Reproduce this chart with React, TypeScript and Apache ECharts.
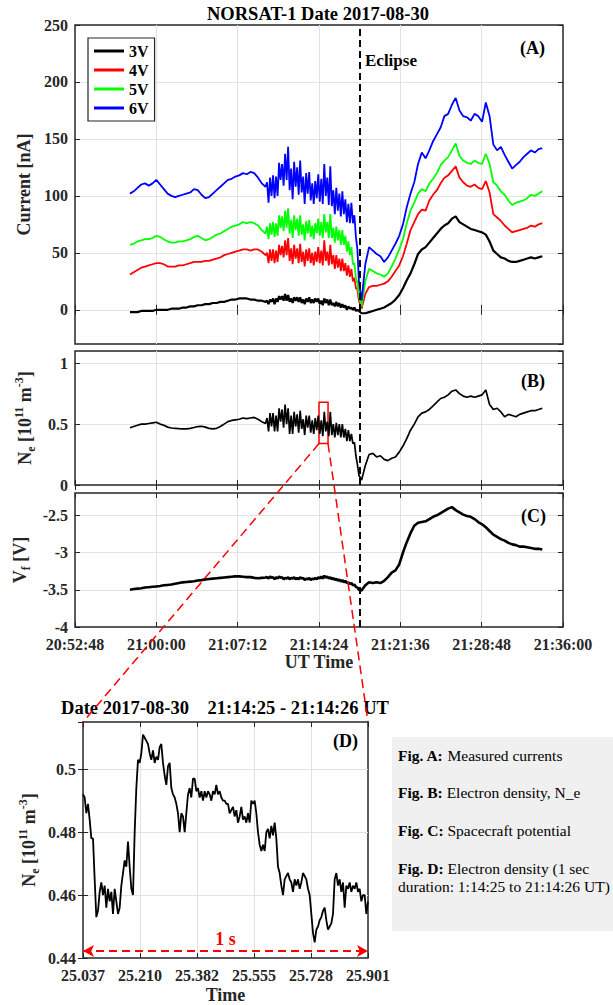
import React, { useEffect, useRef } from "react";
import * as echarts from "echarts";

const FONT = '"Liberation Serif", "Times New Roman", Times, serif';

// sampling of the time series, seconds of day: [start, step, count]
const timeSegments: number[][] = [
  [75460, 20, 37],
  [76188, 8, 62],
  [76690, 20, 49],
];
const tA: number[] = [];
timeSegments.forEach(([s, st, n]) => {
  for (let i = 0; i < n; i++) tA.push(s + i * st);
});

const xTickStart = 75168; // 20:52:48
const xTickEnd = 77760; // 21:36:00
const xTickStep = 432; // 7:12
const eclipseTime = 76680;
const zoomWindow = [76464, 76512];
const zoomRange = [0.34, 0.68];

const seriesNames = ["3V", "4V", "5V", "6V"];
const seriesColors = ["#000000", "#ff0000", "#00ff00", "#0000ff"];

const current3V = [
  -2, -2, -2, -1, -1, -1, -1, 0, 0, 0,
  0, 1, 1, 1, 2, 2, 3, 3, 4, 4,
  5, 5, 6, 6, 7, 7, 8, 9, 9, 10,
  10, 10, 9, 9, 8, 8, 7,
  8, 5, 9, 7, 10, 5, 10, 7, 12, 9,
  12, 8, 14, 8, 13, 7, 10, 6, 11, 8,
  11, 7, 11, 6, 9, 5, 10, 7, 11, 6,
  9, 6, 10, 7, 10, 5, 8, 4, 10, 6,
  9, 4, 9, 4, 6, 3, 7, 3, 6, 2,
  5, 2, 4, 0, 3, 1, 2, 0, 2, -1,
  0, -1,
  -3, -3, -2, -1, 0, 1, 2, 4, 6, 9,
  13, 19, 26, 32, 40, 49, 53, 55, 59, 63,
  67, 71, 74, 76, 80, 82, 77, 75, 73, 71,
  70, 69, 68, 66, 60, 52, 49, 46, 45, 43,
  42, 42, 43, 44, 45, 46, 45, 46, 47,
];
const current4V = [
  31, 33, 35, 37, 38, 39, 40, 41, 41, 40,
  38, 38, 38, 39, 39, 40, 41, 42, 42, 42,
  43, 43, 44, 45, 46, 48, 49, 50, 51, 52,
  53, 53, 52, 53, 53, 51, 48,
  50, 41, 53, 43, 53, 41, 52, 42, 57, 48,
  56, 46, 61, 48, 63, 43, 54, 40, 57, 45,
  54, 41, 58, 42, 51, 38, 53, 43, 54, 41,
  50, 39, 51, 42, 55, 41, 52, 39, 61, 43,
  51, 39, 57, 40, 48, 36, 48, 37, 45, 34,
  45, 34, 41, 30, 39, 29, 36, 25, 28, 19,
  18, 8,
  1, 14, 20, 21, 21, 22, 23, 25, 29, 34,
  39, 47, 58, 70, 77, 84, 88, 87, 96, 101,
  105, 111, 116, 118, 122, 126, 116, 112, 109, 108,
  110, 107, 106, 113, 103, 84, 81, 78, 74, 71,
  68, 69, 70, 71, 72, 74, 73, 75, 76,
];
const current5V = [
  57, 58, 60, 61, 62, 62, 63, 65, 64, 62,
  60, 59, 59, 60, 60, 61, 62, 64, 65, 63,
  61, 62, 64, 66, 67, 69, 71, 73, 74, 75,
  77, 76, 77, 76, 74, 70, 67,
  73, 62, 76, 66, 77, 64, 76, 65, 83, 72,
  82, 69, 87, 72, 89, 67, 79, 63, 83, 70,
  80, 65, 83, 66, 75, 61, 78, 67, 79, 64,
  74, 62, 76, 67, 80, 65, 77, 63, 84, 68,
  77, 63, 84, 63, 72, 59, 73, 61, 70, 57,
  70, 57, 65, 51, 60, 48, 55, 40, 41, 28,
  24, 12,
  3, 25, 36, 34, 32, 31, 29, 32, 38, 45,
  53, 62, 76, 87, 94, 102, 106, 104, 111, 115,
  120, 127, 131, 134, 140, 146, 135, 131, 129, 128,
  131, 129, 128, 137, 128, 112, 109, 104, 101, 96,
  92, 94, 95, 96, 98, 101, 100, 102, 104,
];
const current6V = [
  102, 104, 107, 110, 111, 109, 111, 114, 110, 106,
  102, 100, 99, 100, 101, 102, 103, 106, 105, 101,
  98, 99, 102, 105, 108, 111, 114, 115, 117, 118,
  120, 119, 121, 120, 116, 111, 108,
  112, 94, 116, 100, 118, 98, 117, 100, 129, 114,
  128, 109, 137, 114, 143, 105, 124, 97, 130, 108,
  125, 101, 131, 103, 117, 93, 120, 102, 121, 96,
  111, 93, 113, 98, 119, 95, 115, 93, 128, 100,
  116, 92, 126, 91, 105, 84, 107, 87, 102, 82,
  104, 84, 97, 77, 93, 76, 94, 76, 83, 64,
  53, 25,
  8, 40, 55, 52, 49, 47, 42, 46, 52, 58,
  65, 75, 90, 102, 112, 128, 138, 133, 140, 148,
  154, 160, 170, 172, 180, 186, 175, 170, 169, 166,
  172, 170, 165, 182, 170, 145, 140, 143, 136, 130,
  124, 127, 130, 134, 137, 140, 138, 141, 142,
];
const currents = [current3V, current4V, current5V, current6V];

const electronDensity = [
  0.47, 0.48, 0.49, 0.5, 0.5, 0.505, 0.51, 0.515, 0.5, 0.49,
  0.475, 0.468, 0.465, 0.462, 0.46, 0.46, 0.465, 0.472, 0.48, 0.482,
  0.475, 0.465, 0.46, 0.465, 0.48, 0.5, 0.52, 0.53, 0.535, 0.54,
  0.55, 0.545, 0.55, 0.555, 0.54, 0.52, 0.505,
  0.55, 0.44, 0.59, 0.48, 0.59, 0.44, 0.57, 0.44, 0.63, 0.52,
  0.62, 0.47, 0.66, 0.5, 0.63, 0.42, 0.57, 0.42, 0.6, 0.48,
  0.58, 0.43, 0.61, 0.46, 0.54, 0.41, 0.57, 0.47, 0.57, 0.43,
  0.53, 0.42, 0.55, 0.45, 0.57, 0.42, 0.53, 0.4, 0.6, 0.44,
  0.52, 0.4, 0.6, 0.41, 0.5, 0.39, 0.51, 0.41, 0.5, 0.39,
  0.5, 0.39, 0.46, 0.36, 0.45, 0.36, 0.42, 0.34, 0.35, 0.24,
  0.17, 0.08,
  0.04, 0.16, 0.25, 0.26, 0.23, 0.24, 0.21, 0.2, 0.22, 0.23,
  0.27, 0.32, 0.38, 0.45, 0.5, 0.56, 0.59, 0.6, 0.62, 0.65,
  0.68, 0.71, 0.72, 0.74, 0.77, 0.78, 0.75, 0.73, 0.72, 0.73,
  0.72, 0.73, 0.74, 0.78, 0.66, 0.62, 0.63, 0.6, 0.56, 0.58,
  0.57, 0.56, 0.58, 0.59, 0.6, 0.61, 0.61, 0.62, 0.63,
];

const floatingPotential = [
  -3.5, -3.49, -3.485, -3.48, -3.47, -3.465, -3.46, -3.455, -3.45, -3.44,
  -3.435, -3.43, -3.42, -3.41, -3.4, -3.395, -3.39, -3.385, -3.375, -3.37,
  -3.36, -3.355, -3.35, -3.345, -3.34, -3.335, -3.33, -3.325, -3.32, -3.32,
  -3.325, -3.33, -3.33, -3.34, -3.345, -3.34, -3.335,
  -3.33, -3.35, -3.32, -3.34, -3.33, -3.36, -3.33, -3.35, -3.32, -3.34,
  -3.33, -3.36, -3.34, -3.35, -3.33, -3.36, -3.34, -3.35, -3.33, -3.36,
  -3.34, -3.36, -3.33, -3.35, -3.34, -3.37, -3.35, -3.36, -3.34, -3.37,
  -3.35, -3.36, -3.34, -3.36, -3.33, -3.35, -3.32, -3.35, -3.31, -3.34,
  -3.32, -3.35, -3.33, -3.36, -3.34, -3.37, -3.35, -3.38, -3.36, -3.39,
  -3.37, -3.4, -3.38, -3.41, -3.4, -3.42, -3.41, -3.44, -3.43, -3.46,
  -3.47, -3.5,
  -3.51, -3.44, -3.4, -3.41, -3.4, -3.41, -3.38, -3.33, -3.27, -3.24,
  -3.16, -3.0, -2.86, -2.74, -2.64, -2.6, -2.59, -2.58, -2.55, -2.52,
  -2.5, -2.47, -2.44, -2.41, -2.39, -2.43, -2.46, -2.49, -2.51, -2.52,
  -2.55, -2.59, -2.62, -2.66, -2.71, -2.76, -2.79, -2.82, -2.84, -2.87,
  -2.89, -2.9, -2.92, -2.92, -2.93, -2.94, -2.95, -2.95, -2.96,
];

// Panel D: 1 s of electron density, evenly sampled
const dTicks = ["25.037", "25.210", "25.382", "25.555", "25.728", "25.901"];
const dDensity = [
  0.492, 0.491, 0.486, 0.489, 0.484, 0.478, 0.478, 0.465, 0.453, 0.455,
  0.461, 0.464, 0.46, 0.463, 0.456, 0.462, 0.458, 0.461, 0.454, 0.462,
  0.458, 0.454, 0.456, 0.463, 0.467, 0.471, 0.469, 0.477, 0.469, 0.462,
  0.46, 0.48, 0.494, 0.503, 0.502, 0.505, 0.511, 0.51, 0.509, 0.508,
  0.505, 0.503, 0.506, 0.502, 0.504, 0.503, 0.507, 0.508, 0.502, 0.498,
  0.495, 0.501, 0.502, 0.494, 0.492, 0.491, 0.489, 0.486, 0.48, 0.486,
  0.485, 0.48, 0.486, 0.492, 0.494, 0.491, 0.497, 0.497, 0.493, 0.494,
  0.491, 0.493, 0.49, 0.493, 0.491, 0.493, 0.492, 0.49, 0.493, 0.492,
  0.495, 0.492, 0.493, 0.491, 0.49, 0.49, 0.489, 0.489, 0.486, 0.487,
  0.488, 0.485, 0.487, 0.483, 0.485, 0.488, 0.484, 0.485, 0.483, 0.486,
  0.483, 0.49, 0.489, 0.49, 0.486, 0.48, 0.476, 0.474, 0.476, 0.474,
  0.48, 0.481, 0.478, 0.482, 0.479, 0.483, 0.478, 0.469, 0.467, 0.463,
  0.46, 0.465, 0.466, 0.467, 0.465, 0.464, 0.461, 0.465, 0.463, 0.465,
  0.462, 0.464, 0.467, 0.466, 0.465, 0.462, 0.46, 0.454, 0.448, 0.445,
  0.449, 0.45, 0.452, 0.453, 0.455, 0.456, 0.452, 0.449, 0.45, 0.451,
  0.454, 0.465, 0.467, 0.463, 0.465, 0.461, 0.464, 0.456, 0.463, 0.462,
  0.464, 0.461, 0.463, 0.462, 0.464, 0.461, 0.462, 0.458, 0.46, 0.46,
  0.454, 0.458,
];
const dYMin = 0.44;
const dYMax = 0.515;
const oneSecondLevel = 0.4422;

const fmtTime = (v: number) => {
  const h = Math.floor(v / 3600);
  const m = Math.floor((v % 3600) / 60);
  const s = Math.round(v % 60);
  const p = (n: number) => String(n).padStart(2, "0");
  return `${p(h)}:${p(m)}:${p(s)}`;
};

const INK = "#262626";
const tickText = { fontFamily: FONT, fontWeight: "bold" as const, fontSize: 16, color: INK };
const subSup = {
  n: { fontFamily: FONT, fontWeight: "bold", fontSize: 18, color: INK, lineHeight: 24, verticalAlign: "middle" },
  s: { fontFamily: FONT, fontWeight: "bold", fontSize: 12, color: INK, verticalAlign: "bottom" },
  p: { fontFamily: FONT, fontWeight: "bold", fontSize: 12, color: INK, verticalAlign: "top" },
};
const nameText = { fontFamily: FONT, fontWeight: "bold" as const, fontSize: 18, color: INK, rich: subSup };
const gridLine = { show: true, showMinLine: false, showMaxLine: false, lineStyle: { color: "#e2e2e2", width: 1 } };
const tick = { show: true, inside: true, length: 5, lineStyle: { color: INK, width: 1 } };

const grids = [
  { left: 75, top: 25, width: 488, height: 319 },
  { left: 75, top: 351, width: 488, height: 134 },
  { left: 75, top: 493, width: 488, height: 134 },
  { left: 83, top: 722, width: 285, height: 236 },
].map((g) => ({ ...g, show: true, borderColor: INK, borderWidth: 1.5, backgroundColor: "transparent" }));

const yRanges: any[] = [
  { min: -30, max: 250, splitNumber: 5 },
  { min: 0, max: 1.1, interval: 0.5 },
  { min: -4, max: -2.2, interval: 0.5 },
  { min: dYMin, max: dYMax, interval: 0.02 },
];
const xRanges: any[] = [
  { min: xTickStart, max: xTickEnd, interval: xTickStep },
  { min: xTickStart, max: xTickEnd, interval: xTickStep },
  { min: xTickStart, max: xTickEnd, interval: xTickStep },
  { min: 0, max: 5, interval: 1 },
];
const yNames = [
  "Current [nA]",
  "{n|N}{s|e}{n| [10}{p|11}{n| m}{p|-3}{n|]}",
  "{n|V}{s|f}{n| [V]}",
  "{n|N}{s|e}{n| [10}{p|11}{n| m}{p|-3}{n|]}",
];
const yNameGaps = [36, 34, 34, 42];

function buildOption() {
  const xAxis: any[] = [];
  const yAxis: any[] = [];
  for (let i = 0; i < 4; i++) {
    const showX = i >= 2;
    xAxis.push({
      type: "value",
      gridIndex: i,
      ...xRanges[i],
      axisLine: { show: false },
      axisTick: tick,
      splitLine: gridLine,
      axisLabel: {
        show: showX,
        ...tickText,
        margin: 9,
        formatter: i === 3 ? (v: number) => dTicks[Math.round(v)] ?? "" : fmtTime,
      },
      name: i === 2 ? "UT Time" : i === 3 ? "Time" : "",
      nameLocation: "middle",
      nameGap: i === 2 ? 26 : 28,
      nameTextStyle: nameText,
    });
    yAxis.push({
      type: "value",
      gridIndex: i,
      ...yRanges[i],
      axisLine: { show: false },
      axisTick: tick,
      splitLine: gridLine,
      axisLabel: {
        ...tickText,
        margin: 7,
        showMinLabel: i === 0 ? false : true,
        showMaxLabel: i === 0 ? true : false,
        formatter: (v: number) => String(Number(v.toFixed(3))),
      },
      name: yNames[i],
      nameLocation: "middle",
      nameRotate: 90,
      nameGap: yNameGaps[i],
      nameTextStyle: nameText,
    });
  }
  // secondary axes for inward ticks on top and right
  for (let i = 0; i < 4; i++) {
    xAxis.push({
      type: "value", gridIndex: i, position: "top", ...xRanges[i],
      axisLine: { show: false }, axisTick: tick, axisLabel: { show: false }, splitLine: { show: false },
    });
    yAxis.push({
      type: "value", gridIndex: i, position: "right", ...yRanges[i],
      axisLine: { show: false }, axisTick: tick, axisLabel: { show: false }, splitLine: { show: false },
    });
  }

  const eclipseLine = {
    silent: true,
    symbol: ["none", "none"],
    label: { show: false },
    lineStyle: { color: "#000", type: [7, 4], width: 2 },
    data: [{ xAxis: eclipseTime }],
  };

  const series: any[] = currents.map((vals, k) => ({
    name: seriesNames[k],
    type: "line",
    xAxisIndex: 0,
    yAxisIndex: 0,
    showSymbol: false,
    symbol: "none",
    lineStyle: { color: seriesColors[k], width: k === 0 ? 2.2 : 1.8 },
    itemStyle: { color: seriesColors[k] },
    data: tA.map((t, i) => [t, vals[i]]),
    markLine: k === 0 ? eclipseLine : undefined,
  }));
  series.push({
    name: "Ne",
    type: "line",
    xAxisIndex: 1,
    yAxisIndex: 1,
    showSymbol: false,
    symbol: "none",
    lineStyle: { color: "#000", width: 1.7 },
    data: tA.map((t, i) => [t, electronDensity[i]]),
    markLine: eclipseLine,
    markArea: {
      silent: true,
      itemStyle: { color: "rgba(0,0,0,0)", borderColor: "#ff0000", borderWidth: 1.5 },
      data: [[{ xAxis: zoomWindow[0], yAxis: zoomRange[0] }, { xAxis: zoomWindow[1], yAxis: zoomRange[1] }]],
    },
  });
  series.push({
    name: "Vf",
    type: "line",
    xAxisIndex: 2,
    yAxisIndex: 2,
    showSymbol: false,
    symbol: "none",
    lineStyle: { color: "#000", width: 2.6 },
    data: tA.map((t, i) => [t, floatingPotential[i]]),
    markLine: eclipseLine,
  });
  const nD = dDensity.length;
  series.push({
    name: "NeD",
    type: "line",
    xAxisIndex: 3,
    yAxisIndex: 3,
    showSymbol: false,
    symbol: "none",
    lineStyle: { color: "#000", width: 1.8 },
    data: dDensity.map((v, i) => [(i * 5) / (nD - 1), v]),
    markLine: {
      silent: true,
      symbol: ["arrow", "arrow"],
      symbolSize: [9, 11],
      lineStyle: { color: "#ff0000", type: [8, 5], width: 1.8 },
      itemStyle: { color: "#ff0000" },
      label: {
        show: true,
        position: "middle",
        formatter: "1 s",
        color: "#ff0000",
        fontFamily: FONT,
        fontWeight: "bold",
        fontSize: 18,
        distance: 3,
      },
      data: [[{ coord: [0, oneSecondLevel] }, { coord: [5, oneSecondLevel] }]],
    },
  });

  const txt = (id: string, text: string, x: number, y: number, extra: any = {}) => ({
    id,
    type: "text",
    x,
    y,
    z: 20,
    style: {
      text,
      fontFamily: FONT,
      fontWeight: "bold",
      fontSize: 17,
      fill: "#000",
      verticalAlign: "middle",
      ...extra,
    },
  });
  const boxText = (id: string, text: string, y: number) => ({
    id,
    type: "text",
    x: 398,
    y,
    z: 20,
    style: {
      text,
      fontFamily: FONT,
      fontSize: 15.5,
      fill: "#000",
      verticalAlign: "middle",
    },
  });
  const boxBold = (id: string, text: string, y: number) => txt(id, text, 398, y, { fontSize: 15.5 });

  // measured widths of bold prefixes are handled by placing the regular part after them
  const boxLines: [string, string, number][] = [
    ["Fig. A:", " Measured currents", 755],
    ["Fig. B:", " Electron density, N_e", 792],
    ["Fig. C:", " Spacecraft potential", 830],
    ["Fig. D:", " Electron density (1 sec", 868],
  ];
  const boldW = echarts.format.getTextRect
    ? (s: string) => (echarts.format as any).getTextRect(s, `bold 15.5px ${FONT}`).width
    : (s: string) => s.length * 7.6;

  const graphic: any[] = [
    txt("title", "NORSAT-1 Date 2017-08-30", 318, 14, { align: "center", fontSize: 18.5 }),
    txt("eclipse", "Eclipse", 365, 60),
    txt("lblA", "(A)", 520, 48, { fontSize: 18 }),
    txt("lblB", "(B)", 521, 381, { fontSize: 18 }),
    txt("lblC", "(C)", 521, 516, { fontSize: 18 }),
    txt("lblD", "(D)", 333, 741, { fontSize: 18 }),
    txt("titleD", "Date 2017-08-30    21:14:25 - 21:14:26 UT", 225, 708, { align: "center", fontSize: 18.5 }),
    {
      id: "box",
      type: "rect",
      z: 10,
      shape: { x: 392, y: 737, width: 221, height: 194 },
      style: { fill: "#f0f0f0" },
    },
  ];
  boxLines.forEach(([b, r, y], i) => {
    graphic.push(boxBold("bb" + i, b, y));
    const w = boldW(b);
    const t = boxText("br" + i, r, y);
    t.x = 398 + w;
    graphic.push(t);
  });
  graphic.push(boxText("fe", "duration: 1:14:25 to 21:14:26 UT)", 886));

  return {
    animation: false,
    backgroundColor: "#ffffff",
    grid: grids,
    xAxis,
    yAxis,
    series,
    legend: {
      data: seriesNames,
      orient: "vertical",
      left: 88,
      top: 38,
      icon: "rect",
      itemWidth: 30,
      itemHeight: 3,
      itemGap: 3,
      padding: [5, 6, 5, 6],
      borderColor: INK,
      borderWidth: 1.2,
      backgroundColor: "#ffffff",
      selectedMode: false,
      textStyle: { fontFamily: FONT, fontWeight: "bold", fontSize: 16, color: "#000" },
    },
    graphic: { elements: graphic },
  };
}

export default function App() {
  const ref = useRef<HTMLDivElement>(null);
  useEffect(() => {
    if (!ref.current) return;
    const chart = echarts.init(ref.current, undefined, { renderer: "svg", width: 613, height: 1005 });
    chart.setOption(buildOption() as any);
    // zoom guide lines from the red box in (B) to panel (D)
    const a = chart.convertToPixel({ seriesIndex: 4 }, [zoomWindow[0], zoomRange[0]]) as number[];
    const b = chart.convertToPixel({ seriesIndex: 4 }, [zoomWindow[1], zoomRange[0]]) as number[];
    const c = chart.convertToPixel({ seriesIndex: 6 }, [0, dYMax]) as number[];
    const d = chart.convertToPixel({ seriesIndex: 6 }, [5, dYMax]) as number[];
    const dash = { stroke: "#ff0000", lineWidth: 1.5, lineDash: [9, 5], fill: "none" };
    chart.setOption({
      graphic: {
        elements: [
          { id: "zl1", type: "line", z: 30, shape: { x1: a[0], y1: a[1], x2: c[0], y2: c[1] }, style: dash },
          { id: "zl2", type: "line", z: 30, shape: { x1: b[0], y1: b[1], x2: d[0], y2: d[1] }, style: dash },
        ],
      },
    } as any);
    return () => chart.dispose();
  }, []);
  return (
    <div
      ref={ref}
      style={{ position: "absolute", left: 0, top: 0, width: 613, height: 1005, background: "#fff" }}
    />
  );
}
